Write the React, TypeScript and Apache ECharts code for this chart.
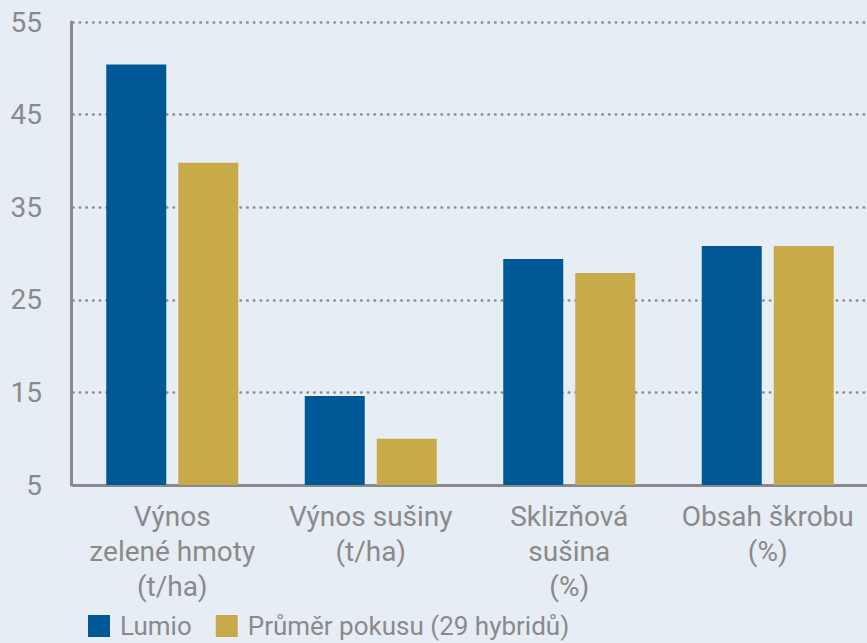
import React, { useEffect, useRef } from "react";
import * as echarts from "echarts";

const categories = [
  "Výnos\nzelené hmoty\n(t/ha)",
  "Výnos sušiny\n(t/ha)",
  "Sklizňová\nsušina\n(%)",
  "Obsah škrobu\n(%)",
];
const seriesNames = ["Lumio", "Průměr pokusu (29 hybridů)"];
const lumio = [50.4, 14.6, 29.4, 30.8];
const prumer = [39.8, 10.0, 27.9, 30.8];

const FONT = "'Roboto', sans-serif";
const GRAY = "#8a8a8a";

export default function App() {
  const ref = useRef<HTMLDivElement>(null);
  useEffect(() => {
    if (!ref.current) return;
    const chart = echarts.init(ref.current, undefined, { renderer: "svg" });
    chart.setOption({
      animation: false,
      backgroundColor: "#e7edf5",
      textStyle: { fontFamily: FONT },
      grid: { left: 73, right: -10, top: 22, bottom: 158, containLabel: false },
      legend: {
        left: 88,
        top: 612,
        padding: 0,
        itemWidth: 22,
        itemHeight: 22,
        itemGap: 24,
        icon: "rect",
        textStyle: {
          color: GRAY,
          fontSize: 26,
          lineHeight: 28,
          fontFamily: FONT,
          padding: [0, 0, 0, 5],
        },
        data: seriesNames,
      },
      xAxis: {
        type: "category",
        data: categories,
        axisLine: { show: true, lineStyle: { color: GRAY, width: 3 } },
        axisTick: { show: false },
        axisLabel: {
          color: GRAY,
          fontSize: 28,
          lineHeight: 35,
          margin: 14,
          fontFamily: FONT,
          interval: 0,
        },
      },
      yAxis: {
        type: "value",
        min: 5,
        max: 55,
        interval: 10,
        offset: 2,
        axisLine: { show: true, lineStyle: { color: GRAY, width: 3 } },
        axisTick: { show: false },
        axisLabel: { color: GRAY, fontSize: 28, margin: 29, fontFamily: FONT },
        splitLine: {
          show: true,
          lineStyle: { color: "#8c8c8c", width: 2.5, type: [0.5, 6.2], cap: "round" },
        },
      },
      series: [
        {
          name: seriesNames[0],
          type: "bar",
          data: lumio,
          barWidth: 60,
          barGap: "20%",
          itemStyle: { color: "#005896" },
        },
        {
          name: seriesNames[1],
          type: "bar",
          data: prumer,
          barWidth: 60,
          itemStyle: { color: "#c8aa48" },
        },
      ],
    });
    return () => chart.dispose();
  }, []);
  return <div ref={ref} style={{ width: 867, height: 643, position: "absolute", left: 0, top: 0 }} />;
}
